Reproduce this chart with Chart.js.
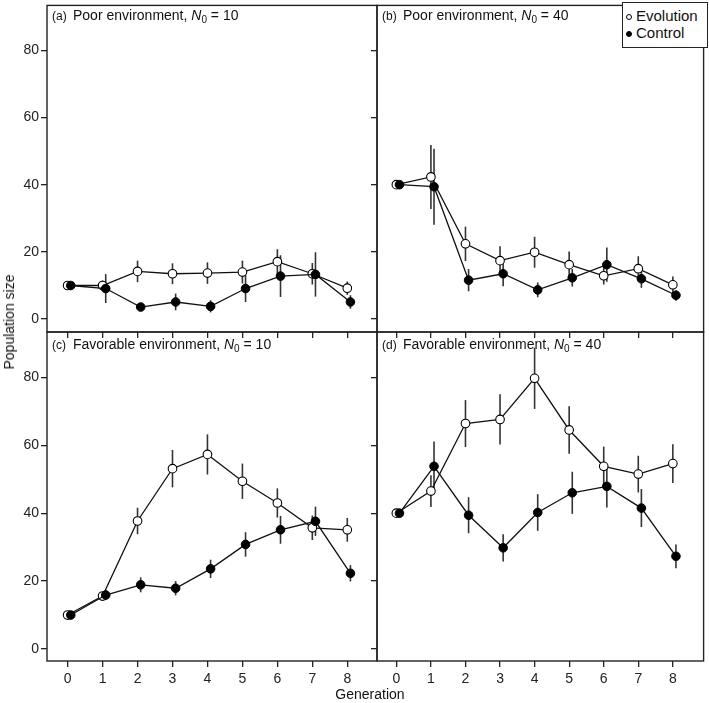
<!DOCTYPE html>
<html>
<head>
<meta charset="utf-8">
<script src="https://cdn.jsdelivr.net/npm/chart.js@4/dist/chart.umd.min.js"></script>
<style>
  body { margin: 0; background: #fff; }
  #fig { position: relative; width: 709px; height: 703px; font-family: "Liberation Sans", Arial, sans-serif; color: #111; }
  #fig canvas { position: absolute; left: 0; top: 0; }
  .ptitle { position: absolute; font-size: 14px; line-height: 1; white-space: nowrap; }
  .ptitle .tag { font-size: 12px; display: inline-block; width: 21px; }
  .ptitle .sub { font-size: 10px; position: relative; top: 3px; }
  .legend { position: absolute; left: 622px; top: 2px; width: 86px; height: 46px; box-sizing: border-box; border: 1px solid #222; background: #fff; }
  .mk { position: absolute; width: 6px; height: 6px; border-radius: 50%; box-sizing: border-box; border: 1px solid #000; }
  .ltxt { position: absolute; font-size: 15px; line-height: 1; white-space: nowrap; }
  .axtitle { position: absolute; font-size: 14px; line-height: 1; white-space: nowrap; }
</style>
</head>
<body>
<div id="fig">
  <canvas id="pa" width="709" height="703"></canvas>
  <canvas id="pb" width="709" height="703"></canvas>
  <canvas id="pc" width="709" height="703"></canvas>
  <canvas id="pd" width="709" height="703"></canvas>

  <div class="ptitle" style="left:52px;top:8px"><span class="tag">(a)</span>Poor environment, <i>N</i><span class="sub">0</span> = 10</div>
  <div class="ptitle" style="left:382px;top:8px"><span class="tag">(b)</span>Poor environment, <i>N</i><span class="sub">0</span> = 40</div>
  <div class="ptitle" style="left:52px;top:337px"><span class="tag">(c)</span>Favorable environment, <i>N</i><span class="sub">0</span> = 10</div>
  <div class="ptitle" style="left:382px;top:337px"><span class="tag">(d)</span>Favorable environment, <i>N</i><span class="sub">0</span> = 40</div>

  <div class="legend"></div>
  <div class="mk" style="left:626px;top:14px;background:#fff"></div>
  <div class="ltxt" style="left:636px;top:8px">Evolution</div>
  <div class="mk" style="left:626px;top:31px;background:#000"></div>
  <div class="ltxt" style="left:636px;top:25px">Control</div>

  <div class="axtitle" style="left:9px;top:322px;transform:translate(-50%,-50%) rotate(-90deg)">Population size</div>
  <div class="axtitle" style="left:370px;top:687px;transform:translateX(-50%)">Generation</div>
</div>

<script>
// generations on the x axis, tick values on the y axis
const generations = [0, 1, 2, 3, 4, 5, 6, 7, 8];
const yTicks = [0, 20, 40, 60, 80];

// (a) poor environment, N0 = 10
const poor10Evo    = [10, 10.0, 14.2, 13.5, 13.7, 14.0, 17.1, 13.5, 9.2];
const poor10EvoErr = [0, 1.5, 3.2, 3.1, 3.2, 3.4, 3.7, 3.2, 2.0];
const poor10Ctl    = [10, 9.1, 3.6, 5.1, 3.8, 9.1, 12.8, 13.3, 5.1];
const poor10CtlErr = [0, 4.3, 1.2, 2.5, 1.8, 4.0, 6.2, 6.6, 2.0];

// (b) poor environment, N0 = 40
const poor40Evo    = [40, 42.3, 22.4, 17.4, 19.9, 16.2, 12.9, 15.0, 10.2];
const poor40EvoErr = [0, 9.5, 5.1, 4.3, 4.6, 3.9, 2.6, 3.7, 2.5];
const poor40Ctl    = [40, 39.4, 11.6, 13.5, 8.7, 12.3, 16.2, 12.0, 7.1];
const poor40CtlErr = [0, 11.3, 3.3, 3.7, 2.2, 2.6, 5.1, 2.7, 1.6];

// (c) favorable environment, N0 = 10
const fav10Evo    = [10, 15.6, 37.7, 53.1, 57.3, 49.4, 43.0, 35.7, 35.1];
const fav10EvoErr = [0, 1.2, 3.9, 5.5, 5.9, 5.2, 4.3, 3.6, 3.5];
const fav10Ctl    = [10, 15.9, 18.9, 17.9, 23.6, 30.8, 35.1, 37.6, 22.3];
const fav10CtlErr = [0, 1.5, 2.2, 2.1, 2.7, 3.6, 4.1, 4.3, 2.4];

// (d) favorable environment, N0 = 40
const fav40Evo    = [40, 46.5, 66.4, 67.6, 79.7, 64.5, 53.8, 51.5, 54.6];
const fav40EvoErr = [0, 4.7, 6.9, 7.4, 9.0, 7.0, 5.8, 5.4, 5.7];
const fav40Ctl    = [40, 53.8, 39.4, 29.8, 40.2, 46.0, 47.9, 41.5, 27.3];
const fav40CtlErr = [0, 7.3, 5.3, 4.0, 5.4, 6.2, 6.2, 5.6, 3.5];

const CTL_SHIFT = 0.09; // control points sit slightly right of evolution
const FONT = "'Liberation Sans', Arial, sans-serif";

// vertical error bars, drawn under lines and points
const errorBars = {
  id: 'errorBars',
  beforeDatasetsDraw(chart) {
    const { ctx, scales: { x, y } } = chart;
    ctx.save();
    ctx.strokeStyle = '#333';
    ctx.lineWidth = 1.6;
    chart.data.datasets.forEach(ds => {
      ds.data.forEach((pt, i) => {
        const e = ds.errs[i];
        if (!e) return;
        const px = x.getPixelForValue(pt.x);
        ctx.beginPath();
        ctx.moveTo(px, y.getPixelForValue(pt.y - e));
        ctx.lineTo(px, y.getPixelForValue(pt.y + e));
        ctx.stroke();
      });
    });
    ctx.restore();
  }
};

// box round each panel
const frame = {
  id: 'frame',
  afterDraw(chart) {
    const { ctx, chartArea: a } = chart;
    ctx.save();
    ctx.strokeStyle = '#222';
    ctx.lineWidth = 1.4;
    ctx.strokeRect(a.left, a.top, a.right - a.left, a.bottom - a.top);
    ctx.restore();
  }
};

function toPoints(vals, shift) {
  return vals.map((v, i) => ({ x: generations[i] + shift, y: v }));
}

function noPad(s) {
  s.paddingTop = 0; s.paddingBottom = 0; s.paddingLeft = 0; s.paddingRight = 0;
}

function makePanel(id, p) {
  new Chart(document.getElementById(id), {
    type: 'line',
    data: {
      datasets: [
        {
          label: 'Control', data: toPoints(p.ctl, CTL_SHIFT), errs: p.ctlErr,
          borderColor: '#111', borderWidth: 1.3, tension: 0,
          pointRadius: 4.3, pointBorderWidth: 1, pointBackgroundColor: '#000', pointBorderColor: '#000'
        },
        {
          label: 'Evolution', data: toPoints(p.evo, 0), errs: p.evoErr,
          borderColor: '#111', borderWidth: 1.3, tension: 0,
          pointRadius: 4.3, pointBorderWidth: 1.1, pointBackgroundColor: '#fff', pointBorderColor: '#000'
        }
      ]
    },
    options: {
      responsive: false,
      animation: false,
      events: [],
      layout: { padding: { left: p.left - 40, top: p.top, right: 709 - p.right, bottom: 703 - p.bottom - 30 } },
      plugins: { legend: { display: false }, tooltip: { enabled: false } },
      scales: {
        x: {
          type: 'linear', min: p.xMin, max: p.xMax,
          afterBuildTicks: s => { s.ticks = generations.map(v => ({ value: v })); },
          afterFit: s => { s.height = 30; noPad(s); },
          ticks: { padding: 4, color: p.xLabels ? '#222' : 'rgba(0,0,0,0)', font: { family: FONT, size: 14 } },
          grid: { drawOnChartArea: false, drawTicks: true, tickLength: 6, color: '#222', lineWidth: 1.3 },
          border: { display: false }
        },
        y: {
          type: 'linear', min: p.yMin, max: p.yMax,
          afterBuildTicks: s => { s.ticks = yTicks.map(v => ({ value: v })); },
          afterFit: s => { s.width = 40; noPad(s); },
          ticks: { padding: 2, color: p.yLabels ? '#222' : 'rgba(0,0,0,0)', font: { family: FONT, size: 14 } },
          grid: { drawOnChartArea: false, drawTicks: true, tickLength: 6, color: '#222', lineWidth: 1.3 },
          border: { display: false }
        }
      }
    },
    plugins: [errorBars, frame]
  });
}

makePanel('pa', { left: 47, top: 2, right: 377, bottom: 332, xMin: -0.59, xMax: 8.85, yMin: -3.83, yMax: 93.34,
  xLabels: false, yLabels: true, evo: poor10Evo, evoErr: poor10EvoErr, ctl: poor10Ctl, ctlErr: poor10CtlErr });
makePanel('pb', { left: 377, top: 2, right: 708, bottom: 332, xMin: -0.56, xMax: 8.89, yMin: -3.83, yMax: 93.34,
  xLabels: false, yLabels: false, evo: poor40Evo, evoErr: poor40EvoErr, ctl: poor40Ctl, ctlErr: poor40CtlErr });
makePanel('pc', { left: 47, top: 332, right: 377, bottom: 661, xMin: -0.59, xMax: 8.85, yMin: -3.53, yMax: 93.35,
  xLabels: true, yLabels: true, evo: fav10Evo, evoErr: fav10EvoErr, ctl: fav10Ctl, ctlErr: fav10CtlErr });
makePanel('pd', { left: 377, top: 332, right: 708, bottom: 661, xMin: -0.56, xMax: 8.89, yMin: -3.53, yMax: 93.35,
  xLabels: true, yLabels: false, evo: fav40Evo, evoErr: fav40EvoErr, ctl: fav40Ctl, ctlErr: fav40CtlErr });
</script>
</body>
</html>
